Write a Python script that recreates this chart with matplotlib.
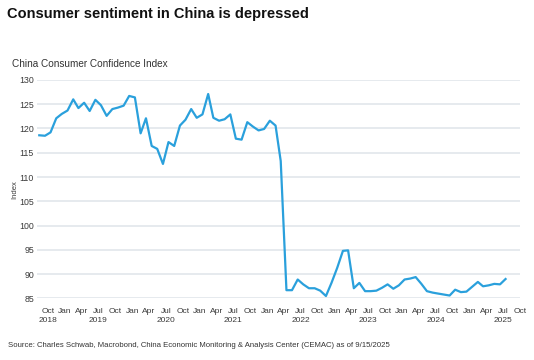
import pandas as pd
import matplotlib
matplotlib.use("Agg")
import matplotlib.pyplot as plt
import matplotlib.dates as mdates

plt.rcParams['font.family'] = ['Liberation Sans', 'DejaVu Sans']

# monthly index, Aug 2018 .. Jul 2025
first_month = "2018-08-01"
index_values = [
    118.6, 118.5, 119.2, 122.1, 123.0,                                              # 2018
    123.7, 126.0, 124.2, 125.3, 123.6, 125.9, 124.8, 122.6, 124.0, 124.3, 124.7, 126.7,  # 2019
    126.4, 119.0, 122.1, 116.4, 115.8, 112.7, 117.2, 116.4, 120.6, 121.8, 124.0, 122.2,  # 2020
    122.9, 127.1, 122.2, 121.6, 121.9, 122.9, 117.9, 117.7, 121.3, 120.4, 119.6, 119.9,  # 2021
    121.6, 120.6, 113.3, 86.7, 86.7, 88.9, 87.9, 87.1, 87.1, 86.6, 85.5, 88.2,          # 2022
    91.3, 94.8, 94.9, 87.1, 88.2, 86.5, 86.5, 86.6, 87.2, 87.9, 87.0, 87.7,             # 2023
    88.9, 89.1, 89.4, 88.0, 86.5, 86.2, 86.0, 85.8, 85.6, 86.8, 86.3, 86.4,             # 2024
    87.4, 88.4, 87.5, 87.7, 88.0, 87.9, 89.0,                                            # 2025
]
y_ticks = [85, 90, 95, 100, 105, 110, 115, 120, 125, 130]

months = pd.date_range(first_month, periods=len(index_values), freq="MS") + pd.Timedelta(days=14)
tick_dates = pd.date_range("2018-10-01", "2025-10-01", freq="QS-OCT")
tick_labels = []
for d in tick_dates:
    lab = d.strftime("%b")
    if d.month == 7 or d == tick_dates[0]:
        lab += "\n" + str(d.year)
    tick_labels.append(lab)

fig = plt.figure(figsize=(5.34, 3.6), dpi=100)
ax = fig.add_axes([0.0687, 0.171, 0.905, 0.607])

ax.plot(months, index_values, color="#2aa0dc", lw=1.6, clip_on=False, zorder=3)

ax.set_ylim(85, 130)
ax.set_yticks(y_ticks)
ax.set_xlim(pd.Timestamp("2018-08-01"), pd.Timestamp("2025-10-01"))
ax.set_xticks(tick_dates)
ax.set_xticklabels(tick_labels)
ax.grid(axis="y", color="#dfe4ea", lw=1.1)
ax.set_axisbelow(True)
for s in ax.spines.values():
    s.set_visible(False)
ax.tick_params(axis="both", length=0, colors="#3a3a3a")
ax.tick_params(axis="y", labelsize=6.3, pad=2)
ax.tick_params(axis="x", labelsize=6, pad=7)
for t in ax.get_xticklabels():
    t.set_linespacing(1.45)
ax.set_ylabel("Index", fontsize=5.5, color="#3a3a3a", labelpad=1)

fig.text(0.013, 0.962, "Consumer sentiment in China is depressed", fontsize=10.5,
         fontweight="bold", color="#111111", va="center")
fig.text(0.022, 0.822, "China Consumer Confidence Index", fontsize=7.2,
         color="#333333", va="center")
fig.text(0.015, 0.039, "Source: Charles Schwab, Macrobond, China Economic Monitoring & Analysis "
         "Center (CEMAC) as of 9/15/2025", fontsize=5.6, color="#333333", va="center")

fig.savefig("out.png", dpi=100, facecolor="white")
